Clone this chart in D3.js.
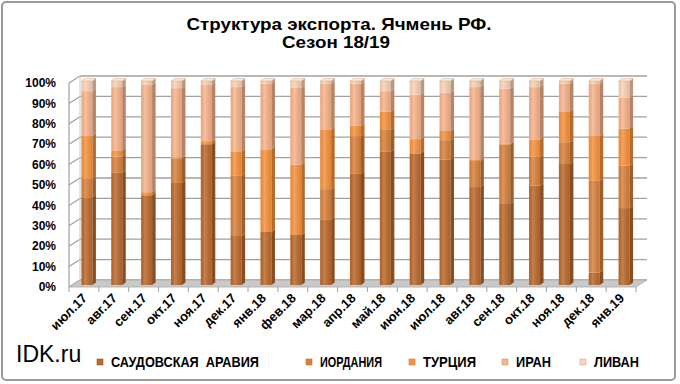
<!DOCTYPE html>
<html>
<head>
<meta charset="utf-8">
<script src="https://cdn.jsdelivr.net/npm/d3@7"></script>
<style>
  body { margin: 0; background: #fff; }
  text { font-family: "Liberation Sans", Arial, sans-serif; }
</style>
</head>
<body>
<script>
// data: share of each destination, %
var months = ["июл.17", "авг.17", "сен.17", "окт.17", "ноя.17", "дек.17", "янв.18", "фев.18", "мар.18", "апр.18",
    "май.18", "июн.18", "июл.18", "авг.18", "сен.18", "окт.18", "ноя.18", "дек.18", "янв.19"];
var saudi   = [43, 55, 44, 50, 69, 24, 26, 24.5, 32, 54.5, 65.5, 64.5, 61.5, 48, 39.7, 48.7, 59.3, 6.1, 37.7];
var jordan  = [9, 8, 0, 12, 0, 29.5, 0, 0, 15, 18.5, 10.5, 0, 9.5, 12.8, 29.2, 14.1, 10.7, 45, 20.8];
var turkey  = [21, 3, 1.5, 0.5, 1.5, 12, 40.5, 34.5, 29, 5, 9, 7, 4.5, 0.8, 0.5, 8.5, 15.1, 21.9, 18.2];
var iran    = [22, 31, 52.5, 34, 27.5, 31.5, 32.2, 37.6, 22.5, 20.7, 10, 21.8, 18.8, 35.4, 26.8, 25.7, 13.6, 25.5, 15.1];
var lebanon = [5, 3, 2, 3.5, 2, 3, 1.3, 3.4, 1.5, 1.3, 5, 6.7, 5.7, 3, 3.8, 3, 1.3, 1.5, 8.2];
var seriesNames = ["САУДОВСКАЯ  АРАВИЯ", "ИОРДАНИЯ", "ТУРЦИЯ", "ИРАН", "ЛИВАН"];
var yTicks = [0, 10, 20, 30, 40, 50, 60, 70, 80, 90, 100];

var colors = ["#bc6a2d", "#d9823d", "#f7933f", "#f9b48b", "#fcd2b7"];

var width = 680, height = 384;
// front plane of the 3d box
var pLeft = 69, pRight = 636, pBottom = 287, pTop = 83;
// depth of the box
var depthX = 11, depthY = -7;
// bars sit a little behind the front plane
var shiftX = 3, shiftY = -2, barW = 11, sideX = 3.5, sideY = -2.5;

var svg = d3.select("body").append("svg")
    .attr("width", width)
    .attr("height", height);

var defs = svg.append("defs");
var shine = defs.append("linearGradient").attr("id", "shine")
    .attr("x1", "0%").attr("x2", "100%").attr("y1", "0%").attr("y2", "0%");
shine.append("stop").attr("offset", "0%").attr("stop-color", "#000").attr("stop-opacity", 0.06);
shine.append("stop").attr("offset", "35%").attr("stop-color", "#fff").attr("stop-opacity", 0.15);
shine.append("stop").attr("offset", "100%").attr("stop-color", "#000").attr("stop-opacity", 0.1);

// outer frame
svg.append("rect")
    .attr("x", 2).attr("y", 2)
    .attr("width", 673).attr("height", 378)
    .attr("rx", 4)
    .attr("fill", "#fff")
    .attr("stroke", "#9a9a9a")
    .attr("stroke-width", 2);

// title
var title = svg.append("text")
    .attr("text-anchor", "middle")
    .style("font-size", "17px")
    .style("font-weight", "bold");
title.append("tspan").attr("x", 339).attr("y", 30)
    .attr("textLength", 305).attr("lengthAdjust", "spacingAndGlyphs")
    .text("Структура экспорта. Ячмень РФ.");
title.append("tspan").attr("x", 336).attr("y", 48)
    .attr("textLength", 108).attr("lengthAdjust", "spacingAndGlyphs")
    .text("Сезон 18/19");

// scales
var x = d3.scaleBand().domain(months).range([pLeft, pRight]);
var y = d3.scaleLinear().domain([0, 100]).range([pBottom, pTop]);

// back wall gridlines and left wall diagonals
svg.selectAll(".grid")
    .data(yTicks)
    .enter()
    .append("line")
    .attr("x1", pLeft + depthX)
    .attr("x2", pRight + depthX)
    .attr("y1", function (d) { return y(d) + depthY; })
    .attr("y2", function (d) { return y(d) + depthY; })
    .attr("stroke", "#a0a0a0")
    .attr("stroke-width", 1.3);

svg.selectAll(".side")
    .data(yTicks)
    .enter()
    .append("line")
    .attr("x1", pLeft)
    .attr("x2", pLeft + depthX)
    .attr("y1", function (d) { return y(d); })
    .attr("y2", function (d) { return y(d) + depthY; })
    .attr("stroke", "#a0a0a0")
    .attr("stroke-width", 1.2);

svg.append("line")
    .attr("x1", pLeft + depthX).attr("x2", pLeft + depthX)
    .attr("y1", y(100) + depthY).attr("y2", y(0) + depthY)
    .attr("stroke", "#c8c8c8");

// floor
svg.append("path")
    .attr("d", "M" + pLeft + "," + pBottom + "L" + pRight + "," + pBottom +
        "L" + (pRight + depthX) + "," + (pBottom + depthY) +
        "L" + (pLeft + depthX) + "," + (pBottom + depthY) + "Z")
    .attr("fill", "#c9c9c9")
    .attr("stroke", "#a9a9a9")
    .attr("stroke-width", 0.8);

// y axis line
svg.append("line")
    .attr("x1", pLeft).attr("x2", pLeft)
    .attr("y1", y(100)).attr("y2", pBottom)
    .attr("stroke", "#a0a0a0")
    .attr("stroke-width", 1.2);

// stacked bars
var keys = [0, 1, 2, 3, 4];
var table = months.map(function (m, i) {
    return {month: m, 0: saudi[i], 1: jordan[i], 2: turkey[i], 3: iran[i], 4: lebanon[i]};
});
var stacked = d3.stack().keys(keys)(table);

function bx(d) {
    return x(d.data.month) + x.bandwidth() / 2 - barW / 2 + shiftX;
}

var layers = svg.selectAll(".layer")
    .data(stacked)
    .enter()
    .append("g")
    .attr("class", "layer");

layers.each(function (layer, k) {
    var g = d3.select(this);
    var c = colors[k];
    var segs = layer.filter(function (d) { return d[1] - d[0] > 0; });

    // front face
    g.selectAll(".front")
        .data(segs)
        .enter()
        .append("rect")
        .attr("x", bx)
        .attr("y", function (d) { return y(d[1]) + shiftY; })
        .attr("width", barW)
        .attr("height", function (d) { return y(d[0]) - y(d[1]); })
        .attr("fill", c);

    g.selectAll(".gloss")
        .data(segs)
        .enter()
        .append("rect")
        .attr("x", bx)
        .attr("y", function (d) { return y(d[1]) + shiftY; })
        .attr("width", barW)
        .attr("height", function (d) { return y(d[0]) - y(d[1]); })
        .attr("fill", "url(#shine)");

    // right side face
    g.selectAll(".sideface")
        .data(segs)
        .enter()
        .append("path")
        .attr("d", function (d) {
            var x0 = bx(d) + barW, y0 = y(d[1]) + shiftY, y1 = y(d[0]) + shiftY;
            return "M" + x0 + "," + y0 + "L" + (x0 + sideX) + "," + (y0 + sideY) +
                "L" + (x0 + sideX) + "," + (y1 + sideY) + "L" + x0 + "," + y1 + "Z";
        })
        .attr("fill", d3.color(c).darker(0.9));

    // top cap only on the last series
    if (k === keys.length - 1) {
        g.selectAll(".cap")
            .data(segs)
            .enter()
            .append("path")
            .attr("d", function (d) {
                var x0 = bx(d), y0 = y(d[1]) + shiftY;
                return "M" + x0 + "," + y0 + "L" + (x0 + sideX) + "," + (y0 + sideY) +
                    "L" + (x0 + barW + sideX) + "," + (y0 + sideY) + "L" + (x0 + barW) + "," + y0 + "Z";
            })
            .attr("fill", d3.color(c).brighter(0.3))
            .attr("stroke", d3.color(c).darker(0.6))
            .attr("stroke-width", 0.5);
    }
});

// y axis labels
svg.selectAll(".ylab")
    .data(yTicks)
    .enter()
    .append("text")
    .attr("x", 56)
    .attr("y", function (d) { return y(d); })
    .attr("dy", "0.35em")
    .attr("text-anchor", "end")
    .style("font-size", "12px")
    .style("font-weight", "bold")
    .text(function (d) { return d + "%"; });

// x tick marks
var tickPos = months.map(function (m) { return x(m); }).concat([pRight]);
svg.selectAll(".xtick")
    .data(tickPos)
    .enter()
    .append("line")
    .attr("x1", function (d) { return d; })
    .attr("x2", function (d) { return d; })
    .attr("y1", pBottom)
    .attr("y2", pBottom + 5)
    .attr("stroke", "#a0a0a0");

// x labels
svg.selectAll(".xlab")
    .data(months)
    .enter()
    .append("text")
    .attr("transform", function (d) {
        return "translate(" + (x(d) + x.bandwidth() / 2 + 4) + "," + (pBottom + 12) + ") rotate(-45)";
    })
    .attr("text-anchor", "end")
    .style("font-size", "13px")
    .style("font-weight", "bold")
    .text(function (d) { return d; });

// watermark
svg.append("text")
    .attr("x", 16)
    .attr("y", 362)
    .style("font-size", "23px")
    .text("IDK.ru");

// legend
var legendX = [97, 306, 409, 502, 580];
var legendW = [148, 62, 53, 35, 45];
var legend = svg.selectAll(".legend")
    .data(seriesNames)
    .enter()
    .append("g")
    .attr("transform", function (d, i) { return "translate(" + legendX[i] + ",359)"; });

legend.append("rect")
    .attr("width", 6)
    .attr("height", 6)
    .attr("fill", function (d, i) { return colors[i]; })
    .attr("stroke", function (d, i) { return d3.color(colors[i]).darker(0.5); })
    .attr("stroke-width", 0.6);

legend.append("text")
    .attr("x", 14)
    .attr("y", 3)
    .attr("dy", "0.35em")
    .attr("textLength", function (d, i) { return legendW[i]; })
    .attr("lengthAdjust", "spacingAndGlyphs")
    .style("font-size", "14px")
    .style("font-weight", "bold")
    .style("white-space", "pre")
    .text(function (d) { return d; });
</script>
</body>
</html>
